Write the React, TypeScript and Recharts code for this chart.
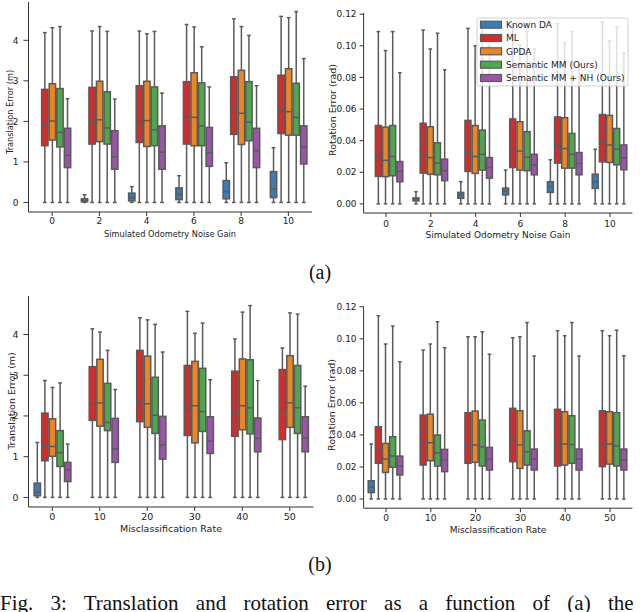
import React from 'react';
import { ComposedChart, Bar, XAxis, YAxis } from 'recharts';

type Box = [number, number, number, number, number] | null; // [whiskerLow, q1, median, q3, whiskerHigh]

const SERIES = ['Known DA', 'ML', 'GPDA', 'Semantic MM (Ours)', 'Semantic MM + NH (Ours)'];
const COLORS = ['#3b7bb8', '#d42c2d', '#ee8523', '#4ea74e', '#9a55a8'];
const EDGE = '#5a5a5a';
const FRAME = '#333333';

const noiseGains = ['0', '2', '4', '6', '8', '10'];
const misclassRates = ['0', '10', '20', '30', '40', '50'];

const transTicks = [0, 1, 2, 3, 4];
const rotTicks = [0, 0.02, 0.04, 0.06, 0.08, 0.1, 0.12];

// (a) translation error vs noise gain
const aTransKnownDA: Box[] = [null, [0, 0.016, 0.057, 0.09, 0.19], [0, 0.04, 0.12, 0.23, 0.39], [0, 0.07, 0.2, 0.36, 0.66], [0, 0.09, 0.27, 0.54, 0.98], [0, 0.12, 0.34, 0.76, 1.35]];
const aTransML: Box[] = [[0, 1.4, 1.93, 2.79, 4.19], [0, 1.44, 1.97, 2.84, 4.23], [0, 1.48, 1.99, 2.88, 4.23], [0, 1.44, 2.11, 2.98, 4.39], [0, 1.68, 2.25, 3.1, 4.53], [0, 1.7, 2.26, 3.14, 4.59]];
const aTransGPDA: Box[] = [[0, 1.54, 2.01, 2.93, 4.31], [0, 1.5, 2.04, 2.99, 4.34], [0, 1.38, 2.02, 2.99, 4.16], [0, 1.4, 2.1, 3.2, 4.33], [0, 1.43, 2.2, 3.26, 4.34], [0, 1.66, 2.24, 3.3, 4.56]];
const aTransSMM: Box[] = [[0, 1.37, 1.73, 2.81, 4.34], [0, 1.44, 1.84, 2.73, 4.22], [0, 1.4, 1.79, 2.85, 4.22], [0, 1.4, 1.89, 2.95, 3.84], [0, 1.52, 1.98, 2.98, 4.12], [0, 1.66, 2.1, 2.94, 4.71]];
const aTransSMMNH: Box[] = [[0, 0.86, 1.16, 1.83, 2.56], [0, 0.82, 1.13, 1.77, 2.55], [0, 0.82, 1.24, 1.89, 2.7], [0, 0.89, 1.23, 1.85, 2.85], [0, 0.86, 1.28, 1.83, 2.88], [0, 0.95, 1.36, 1.89, 3.55]];

// (a) rotation error vs noise gain
const aRotKnownDA: Box[] = [null, [0, 0.0019, 0.003, 0.0038, 0.0077], [0, 0.0036, 0.0057, 0.0073, 0.014], [0, 0.0057, 0.008, 0.01, 0.0214], [0, 0.0073, 0.0109, 0.014, 0.0279], [0, 0.0098, 0.014, 0.0188, 0.0346]];
const aRotML: Box[] = [[0, 0.0174, 0.03, 0.0496, 0.109], [0, 0.0195, 0.031, 0.051, 0.11], [0, 0.0205, 0.0325, 0.0528, 0.111], [0, 0.023, 0.0346, 0.0538, 0.113], [0, 0.0258, 0.0373, 0.055, 0.114], [0, 0.0266, 0.039, 0.0565, 0.115]];
const aRotGPDA: Box[] = [[0, 0.0172, 0.0276, 0.0486, 0.097], [0, 0.0188, 0.0293, 0.0488, 0.098], [0, 0.0193, 0.03, 0.0496, 0.1], [0, 0.0214, 0.0335, 0.052, 0.1005], [0, 0.0226, 0.035, 0.0545, 0.102], [0, 0.0262, 0.0373, 0.056, 0.103]];
const aRotSMM: Box[] = [[0, 0.0178, 0.03, 0.0496, 0.109], [0, 0.0184, 0.0258, 0.0387, 0.108], [0, 0.0214, 0.0314, 0.0467, 0.113], [0, 0.021, 0.0295, 0.0457, 0.109], [0, 0.0226, 0.0314, 0.0446, 0.109], [0, 0.0247, 0.0346, 0.0477, 0.112]];
const aRotSMMNH: Box[] = [[0, 0.014, 0.0205, 0.0268, 0.083], [0, 0.0147, 0.021, 0.0283, 0.0848], [0, 0.0163, 0.023, 0.0293, 0.1], [0, 0.0184, 0.0247, 0.0314, 0.098], [0, 0.0184, 0.0255, 0.0325, 0.088], [0, 0.0216, 0.0293, 0.0373, 0.0955]];

// (b) translation error vs misclassification rate
const bTransKnownDA: Box[] = [[0, 0.04, 0.13, 0.35, 1.35], null, null, null, null, null];
const bTransML: Box[] = [[0, 0.9, 1.25, 2.07, 2.87], [0, 1.89, 2.3, 3.21, 4.14], [0, 1.86, 2.34, 3.61, 4.41], [0, 1.52, 2.17, 3.24, 4.57], [0, 1.5, 2.09, 3.1, 3.89], [0, 1.42, 2.15, 3.14, 3.67]];
const bTransGPDA: Box[] = [[0, 1.01, 1.25, 1.93, 2.7], [0, 1.75, 2.32, 3.39, 4.06], [0, 1.72, 2.3, 3.47, 4.36], [0, 1.34, 2.25, 3.34, 4.03], [0, 1.66, 2.25, 3.4, 4.55], [0, 1.72, 2.32, 3.48, 4.53]];
const bTransSMM: Box[] = [[0, 0.76, 1.1, 1.64, 2.81], [0, 1.64, 1.84, 2.8, 3.61], [0, 1.57, 2.02, 2.95, 4.25], [0, 1.62, 2.11, 3.17, 4.28], [0, 1.56, 2.2, 3.38, 4.71], [0, 1.57, 2.2, 3.24, 4.5]];
const bTransSMMNH: Box[] = [[0, 0.39, 0.68, 0.86, 1.31], [0, 0.86, 1.19, 1.94, 2.65], [0, 0.94, 1.29, 1.99, 3.57], [0, 1.08, 1.38, 1.98, 2.89], [0, 1.12, 1.45, 1.95, 2.87], [0, 1.12, 1.45, 1.98, 2.73]];

// (b) rotation error vs misclassification rate
const bRotKnownDA: Box[] = [[0, 0.004, 0.0073, 0.0114, 0.0343], null, null, null, null, null];
const bRotML: Box[] = [[0, 0.0223, 0.031, 0.0451, 0.1144], [0, 0.0212, 0.0347, 0.0524, 0.093], [0, 0.0223, 0.0331, 0.0539, 0.1013], [0, 0.0233, 0.0368, 0.0566, 0.1007], [0, 0.0206, 0.0347, 0.056, 0.105], [0, 0.0202, 0.0343, 0.0551, 0.105]];
const bRotGPDA: Box[] = [[0, 0.0166, 0.025, 0.0347, 0.0967], [0, 0.0239, 0.0351, 0.053, 0.0967], [0, 0.0229, 0.0337, 0.0549, 0.1013], [0, 0.0191, 0.0337, 0.0551, 0.1013], [0, 0.0212, 0.0343, 0.0545, 0.1019], [0, 0.0218, 0.0343, 0.0545, 0.1019]];
const bRotSMM: Box[] = [[0, 0.0198, 0.0268, 0.0389, 0.108], [0, 0.0206, 0.0289, 0.04, 0.1106], [0, 0.0206, 0.0327, 0.0493, 0.1044], [0, 0.0212, 0.0295, 0.0426, 0.1102], [0, 0.0223, 0.0341, 0.052, 0.1102], [0, 0.0206, 0.0331, 0.0539, 0.1054]];
const bRotSMMNH: Box[] = [[0, 0.015, 0.0206, 0.0268, 0.0857], [0, 0.0171, 0.0243, 0.031, 0.0944], [0, 0.0181, 0.0248, 0.0322, 0.0903], [0, 0.0181, 0.0248, 0.0312, 0.0892], [0, 0.0181, 0.0248, 0.0312, 0.0892], [0, 0.0181, 0.0243, 0.0312, 0.0894]];

const FONT = '"DejaVu Sans", sans-serif';
const SERIF = '"Liberation Serif", "Times New Roman", serif';

const BoxShape = (props: any) => {
  const { x, y, width, height, payload, sIndex, color } = props;
  const b: Box = payload ? payload['s' + sIndex] : null;
  if (!b || !isFinite(x) || !isFinite(y) || !isFinite(height)) return <g />;
  const top = Math.min(y, y + height);
  const bot = Math.max(y, y + height);
  const [lo, q1, med, q3, hi] = b;
  const span = hi - lo;
  if (span <= 0) return <g />;
  const py = (v: number) => bot - ((bot - top) * (v - lo)) / span;
  const cx = x + width / 2;
  const bw = width - 1.2;
  const cw = width * 0.5;
  const sw = 1.5;
  return (
    <g>
      <line x1={cx} x2={cx} y1={py(q3)} y2={py(hi)} stroke={EDGE} strokeWidth={sw} />
      <line x1={cx} x2={cx} y1={py(q1)} y2={py(lo)} stroke={EDGE} strokeWidth={sw} />
      <line x1={cx - cw / 2} x2={cx + cw / 2} y1={py(hi)} y2={py(hi)} stroke={EDGE} strokeWidth={sw} />
      <line x1={cx - cw / 2} x2={cx + cw / 2} y1={py(lo)} y2={py(lo)} stroke={EDGE} strokeWidth={sw} />
      <rect x={cx - bw / 2} y={py(q3)} width={bw} height={Math.max(py(q1) - py(q3), 0.5)} fill={color} stroke={EDGE} strokeWidth={sw} />
      <line x1={cx - bw / 2} x2={cx + bw / 2} y1={py(med)} y2={py(med)} stroke={EDGE} strokeWidth={sw} />
    </g>
  );
};

type PanelCfg = {
  left: number;
  top: number;
  width: number;
  height: number;
  margin: { top: number; right: number; bottom: number; left: number };
  yAxisWidth: number;
  xAxisHeight: number;
  domain: [number, number];
  ticks: number[];
  decimals: number;
  cats: string[];
  series: Box[][];
  tickFont: number;
  yTickSize: number;
  yTickMargin: number;
  xTickMargin: number;
};

const Panel = ({ cfg }: { cfg: PanelCfg }) => {
  const data = cfg.cats.map((c, i) => {
    const row: any = { cat: c };
    cfg.series.forEach((s, k) => {
      row['s' + k] = s[i];
    });
    return row;
  });
  const plotW = cfg.width - cfg.margin.left - cfg.margin.right - cfg.yAxisWidth;
  const band = plotW / cfg.cats.length;
  const barSize = band * 0.16;
  return (
    <div style={{ position: 'absolute', left: cfg.left, top: cfg.top }}>
      <ComposedChart
        width={cfg.width}
        height={cfg.height}
        data={data}
        margin={cfg.margin}
        barGap={0}
        barSize={barSize}
      >
        <XAxis
          dataKey="cat"
          type="category"
          tickSize={4}
          tickMargin={cfg.xTickMargin}
          height={cfg.xAxisHeight}
          stroke={FRAME}
          tick={{ fill: '#222', fontSize: cfg.tickFont, fontFamily: FONT }}
          tickLine={{ stroke: FRAME }}
          axisLine={{ stroke: FRAME }}
          interval={0}
        />
        <XAxis xAxisId="top" orientation="top" dataKey="cat" height={0} tick={false} tickLine={false} axisLine={{ stroke: FRAME }} />
        <YAxis
          type="number"
          domain={cfg.domain}
          ticks={cfg.ticks}
          allowDataOverflow
          width={cfg.yAxisWidth}
          tickSize={cfg.yTickSize}
          tickMargin={cfg.yTickMargin}
          tickFormatter={(v: number) => v.toFixed(cfg.decimals)}
          tick={{ fill: '#222', fontSize: cfg.tickFont, fontFamily: FONT }}
          tickLine={{ stroke: FRAME }}
          axisLine={{ stroke: FRAME }}
        />
        <YAxis yAxisId="right" orientation="right" width={0} domain={cfg.domain} tick={false} tickLine={false} axisLine={{ stroke: FRAME }} />
        {cfg.series.map((_, k) => (
          <Bar
            key={k}
            name={SERIES[k]}
            dataKey={(d: any) => (d['s' + k] ? [d['s' + k][0], d['s' + k][4]] : null)}
            fill={COLORS[k]}
            isAnimationActive={false}
            shape={(p: any) => <BoxShape {...p} sIndex={k} color={COLORS[k]} />}
          />
        ))}
      </ComposedChart>
    </div>
  );
};

const panels: PanelCfg[] = [
  {
    left: 0, top: 0, width: 320, height: 245,
    margin: { top: 2, right: 8, bottom: 3, left: 0 },
    yAxisWidth: 28.5, xAxisHeight: 30,
    domain: [-0.2355, 4.9455], ticks: transTicks, decimals: 0,
    cats: noiseGains,
    series: [aTransKnownDA, aTransML, aTransGPDA, aTransSMM, aTransSMMNH],
    tickFont: 9, yTickSize: 5, yTickMargin: 5, xTickMargin: 2,
  },
  {
    left: 320, top: 0, width: 320, height: 245,
    margin: { top: 13, right: 7.6, bottom: 2, left: 0 },
    yAxisWidth: 43.6, xAxisHeight: 30,
    domain: [-0.00575, 0.12075], ticks: rotTicks, decimals: 2,
    cats: noiseGains,
    series: [aRotKnownDA, aRotML, aRotGPDA, aRotSMM, aRotSMMNH],
    tickFont: 9, yTickSize: 4, yTickMargin: 3, xTickMargin: 4,
  },
  {
    left: 0, top: 290, width: 320, height: 245,
    margin: { top: 6, right: 6.5, bottom: 0, left: 0 },
    yAxisWidth: 28.5, xAxisHeight: 28,
    domain: [-0.2355, 4.9455], ticks: transTicks, decimals: 0,
    cats: misclassRates,
    series: [bTransKnownDA, bTransML, bTransGPDA, bTransSMM, bTransSMMNH],
    tickFont: 9.5, yTickSize: 5, yTickMargin: 5, xTickMargin: 2,
  },
  {
    left: 320, top: 290, width: 320, height: 245,
    margin: { top: 16.6, right: 7.6, bottom: 0, left: 0 },
    yAxisWidth: 43.6, xAxisHeight: 26.8,
    domain: [-0.00572, 0.1201], ticks: rotTicks, decimals: 2,
    cats: misclassRates,
    series: [bRotKnownDA, bRotML, bRotGPDA, bRotSMM, bRotSMMNH],
    tickFont: 9, yTickSize: 4, yTickMargin: 3, xTickMargin: 2,
  },
];

const legendRows = [24.7, 38, 51.3, 64.7, 78];

export default function App() {
  return (
    <div style={{ position: 'absolute', left: 0, top: 0, width: 640, height: 612, background: '#fff', overflow: 'hidden' }}>
      {panels.map((p, i) => (
        <Panel key={i} cfg={p} />
      ))}
      <svg width={640} height={612} style={{ position: 'absolute', left: 0, top: 0, pointerEvents: 'none' }}>
        {/* axis labels */}
        <text x={170} y={237} textAnchor="middle" fontSize={8.2} fontFamily={FONT} fill="#222">Simulated Odometry Noise Gain</text>
        <text x={498} y={238} textAnchor="middle" fontSize={9} fontFamily={FONT} fill="#222">Simulated Odometry Noise Gain</text>
        <text x={171} y={532} textAnchor="middle" fontSize={9.5} fontFamily={FONT} fill="#222">Misclassification Rate</text>
        <text x={498} y={533} textAnchor="middle" fontSize={9} fontFamily={FONT} fill="#222">Misclassification Rate</text>
        <text transform="translate(13,112) rotate(-90)" textAnchor="middle" fontSize={8.2} fontFamily={FONT} fill="#222">Translation Error (m)</text>
        <text transform="translate(336,110) rotate(-90)" textAnchor="middle" fontSize={9.5} fontFamily={FONT} fill="#222">Rotation Error (rad)</text>
        <text transform="translate(14.5,401) rotate(-90)" textAnchor="middle" fontSize={9.5} fontFamily={FONT} fill="#222">Translation Error (m)</text>
        <text transform="translate(335,405) rotate(-90)" textAnchor="middle" fontSize={9.5} fontFamily={FONT} fill="#222">Rotation Error (rad)</text>
        {/* legend */}
        <rect x={477} y={18} width={151} height={68} rx={2.5} fill="#fff" fillOpacity={0.8} stroke="#d0d0d0" strokeWidth={1} />
        {SERIES.map((s, k) => (
          <g key={s}>
            <rect x={480.5} y={legendRows[k] - 3.5} width={21} height={7} fill={COLORS[k]} stroke={EDGE} strokeWidth={1.2} />
            <text x={506} y={legendRows[k] + 3.2} fontSize={9} fontFamily={FONT} fill="#222">{s}</text>
          </g>
        ))}
        {/* captions */}
        <text x={320} y={279} textAnchor="middle" fontSize={20} fontFamily={SERIF} fill="#111">(a)</text>
        <text x={320} y={571} textAnchor="middle" fontSize={20} fontFamily={SERIF} fill="#111">(b)</text>
        <text x={0} y={610} fontSize={21} wordSpacing={12} fontFamily={SERIF} fill="#111">Fig. 3: Translation and rotation error as a function of (a) the</text>
      </svg>
    </div>
  );
}
